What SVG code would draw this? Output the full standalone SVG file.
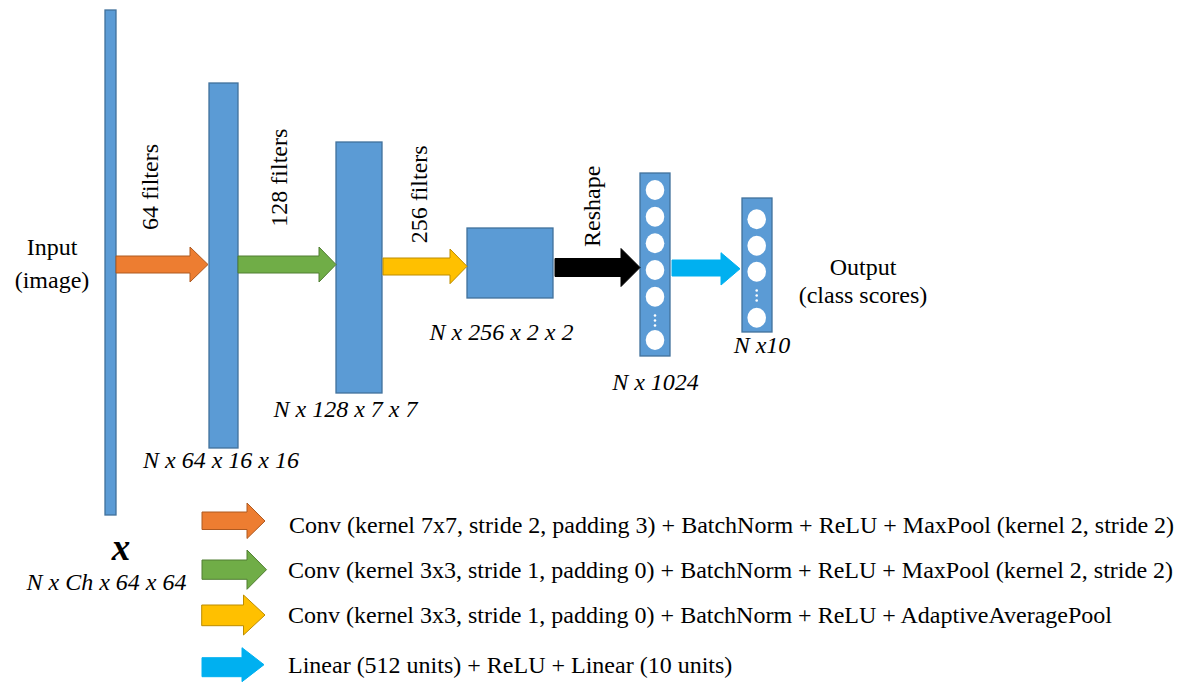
<svg xmlns="http://www.w3.org/2000/svg" width="1187" height="682" viewBox="0 0 1187 682">
<style>
text{font-family:"Liberation Serif","Times New Roman",serif;font-size:24px;fill:#000}
.it{font-style:italic}
.mid{text-anchor:middle}
.blk{fill:#5B9BD5;stroke:#41719C;stroke-width:1.3}
.neu{fill:#fff}
.or{fill:#ED7D31;stroke:#AE5A21;stroke-width:1}
.gr{fill:#70AD47;stroke:#507E32;stroke-width:1}
.ye{fill:#FFC000;stroke:#BC8C00;stroke-width:1}
.bk{fill:#000;stroke:#000;stroke-width:1}
.cy{fill:#00B0F0;stroke:#00B0F0;stroke-width:1}
</style>
<rect width="1187" height="682" fill="#fff"/>

<g id="input">
<rect class="blk" x="105" y="10" width="11" height="505"/>
<text class="mid" x="52" y="255">Input</text>
<text class="mid" x="52" y="288">(image)</text>
<text class="mid" x="121" y="560" style="font-size:37px;font-style:italic;font-weight:bold">x</text>
<text class="it mid" x="106.5" y="590">N x Ch x 64 x 64</text>
</g>

<g id="layer1">
<rect class="blk" x="209" y="83" width="29" height="365"/>
<text class="it mid" x="221" y="468">N x 64 x 16 x 16</text>
</g>

<g id="layer2">
<rect class="blk" x="336" y="142" width="46" height="251"/>
<text class="it mid" x="345.5" y="417">N x 128 x 7 x 7</text>
</g>

<g id="layer3">
<rect class="blk" x="467" y="228" width="86" height="70"/>
<text class="it mid" x="501.5" y="340">N x 256 x 2 x 2</text>
</g>

<g id="fc1024">
<rect class="blk" x="640" y="173" width="30" height="183"/>
<ellipse class="neu" cx="655" cy="190" rx="9.3" ry="10"/>
<ellipse class="neu" cx="655" cy="216.7" rx="9.3" ry="10"/>
<ellipse class="neu" cx="655" cy="243.3" rx="9.3" ry="10"/>
<ellipse class="neu" cx="655" cy="270" rx="9.3" ry="10"/>
<ellipse class="neu" cx="655" cy="296.7" rx="9.3" ry="10"/>
<circle class="neu" cx="655" cy="315.5" r="1.3"/>
<circle class="neu" cx="655" cy="320.5" r="1.3"/>
<circle class="neu" cx="655" cy="325.5" r="1.3"/>
<ellipse class="neu" cx="655" cy="340" rx="9.3" ry="10"/>
<text class="it mid" x="655.5" y="390">N x 1024</text>
</g>

<g id="fc10">
<rect class="blk" x="742" y="198" width="30" height="134"/>
<ellipse class="neu" cx="756.7" cy="219.3" rx="9.3" ry="10"/>
<ellipse class="neu" cx="756.7" cy="245.7" rx="9.3" ry="10"/>
<ellipse class="neu" cx="756.7" cy="271.7" rx="9.3" ry="10"/>
<circle class="neu" cx="756.7" cy="290.5" r="1.3"/>
<circle class="neu" cx="756.7" cy="295.5" r="1.3"/>
<circle class="neu" cx="756.7" cy="300.5" r="1.3"/>
<ellipse class="neu" cx="756.7" cy="317.7" rx="9.3" ry="10"/>
<text class="it mid" x="762" y="353">N x10</text>
</g>

<g id="output">
<text class="mid" x="863" y="275">Output</text>
<text class="mid" x="863" y="303">(class scores)</text>
</g>

<g id="connectors">
<polygon class="or" points="116,256 190,256 190,247 208,264.5 190,282 190,273 116,273"/>
<polygon class="gr" points="238,256 319,256 319,247 336,264.5 319,282 319,273 238,273"/>
<polygon class="ye" points="383,258 450,258 450,249 467,266.3 450,283.7 450,275 383,275"/>
<polygon class="bk" points="555,258.5 621,258.5 621,248.5 640,267.5 621,286.5 621,276.5 555,276.5"/>
<polygon class="cy" points="672,260 721,260 721,252.7 740,268.8 721,285 721,276 672,276"/>
<text transform="translate(158,230) rotate(-90)">64 filters</text>
<text transform="translate(287,226.7) rotate(-90)">128 filters</text>
<text transform="translate(426.5,243.3) rotate(-90)">256 filters</text>
<text transform="translate(600,247) rotate(-90)">Reshape</text>
</g>

<g id="legend">
<polygon class="or" points="202,512 247,512 247,503 265,521 247,538.5 247,529.5 202,529.5"/>
<polygon class="gr" points="202,560 247,560 247,550 266.5,569.7 247,589.3 247,579.3 202,579.3"/>
<polygon class="ye" points="201.7,605 243.5,605 243.5,595 265,615 243.5,635 243.5,625.7 201.7,625.7"/>
<polygon class="cy" points="202,657.7 242,657.7 242,647.7 264,664.7 242,681.7 242,676.7 202,676.7"/>
<text x="289" y="533">Conv (kernel 7x7, stride 2, padding 3) + BatchNorm + ReLU + MaxPool (kernel 2, stride 2)</text>
<text x="288" y="578">Conv (kernel 3x3, stride 1, padding 0) + BatchNorm + ReLU + MaxPool (kernel 2, stride 2)</text>
<text x="288" y="623">Conv (kernel 3x3, stride 1, padding 0) + BatchNorm + ReLU + AdaptiveAveragePool</text>
<text x="288" y="673">Linear (512 units) + ReLU + Linear (10 units)</text>
</g>
</svg>
